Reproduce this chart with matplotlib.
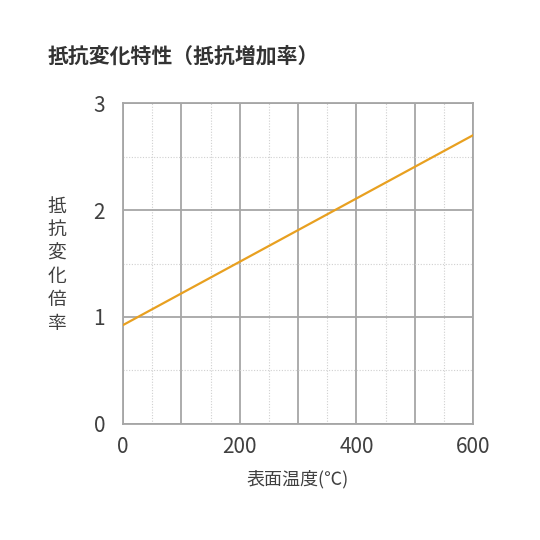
import numpy as np
import matplotlib
matplotlib.use('Agg')
import matplotlib.pyplot as plt

plt.rcParams['font.family'] = ['Noto Sans CJK JP', 'DejaVu Sans']

# resistance ratio vs surface temperature
temp_c = [0, 600]
ratio = [0.925, 2.70]
x_ticks = [0, 200, 400, 600]
y_ticks = [0, 1, 2, 3]

title = '抵抗変化特性（抵抗増加率）'
xlabel = '表面温度(℃)'
ylabel = '抵抗変化倍率'

text_col = '#404040'
grid_col = '#a6a6a6'

fig = plt.figure(figsize=(5.4, 5.4), dpi=100)
ax = fig.add_axes([0.228, 0.215, 0.648, 0.594])

ax.plot(temp_c, ratio, color='#e8a020', lw=1.6, zorder=3)

ax.set_xlim(0, 600)
ax.set_ylim(0, 3)
ax.set_xticks(x_ticks)
ax.set_yticks(y_ticks)

# major grid every 100 / 1, dotted minor grid in between
ax.grid(False)
for xv in range(0, 601, 100):
    ax.axvline(xv, color=grid_col, lw=1.3, zorder=1)
for xv in range(50, 600, 100):
    ax.axvline(xv, color='#d0d0d0', lw=0.8, ls=(0, (1, 1.5)), zorder=1)
for yv in [0, 1, 2, 3]:
    ax.axhline(yv, color=grid_col, lw=1.3, zorder=1)
for yv in [0.5, 1.5, 2.5]:
    ax.axhline(yv, color='#d0d0d0', lw=0.8, ls=(0, (1, 1.5)), zorder=1)

for s in ax.spines.values():
    s.set_color(grid_col)
    s.set_linewidth(1.3)

ax.tick_params(which='both', length=0, labelsize=15, colors=text_col)
ax.tick_params(axis='y', pad=13)
ax.tick_params(axis='x', pad=9)

ax.set_xlabel(xlabel, fontsize=13, color=text_col, labelpad=8)
fig.text(0.105, 0.51, '\n'.join(ylabel), fontsize=13.5, color=text_col,
         ha='center', va='center', linespacing=1.15)
fig.text(0.089, 0.897, title, fontsize=15, fontweight='bold',
         color='#333333', ha='left', va='center')

plt.savefig('out.png', dpi=100)
